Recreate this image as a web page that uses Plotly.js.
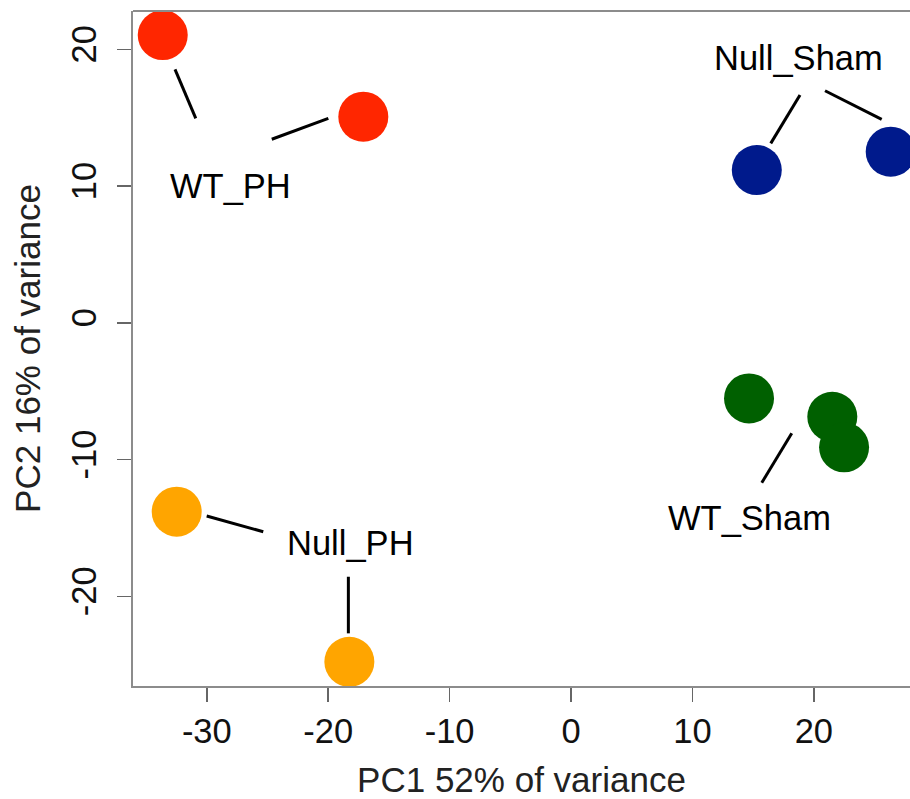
<!DOCTYPE html>
<html>
<head>
<meta charset="utf-8">
<script src="https://cdn.plot.ly/plotly-3.0.1.min.js"></script>
<style>html,body{margin:0;padding:0;background:#fff;}#chart{width:910px;height:799px;}</style>
</head>
<body>
<div id="chart"></div>
<script>
// ---- data ----
const sampleGroups = ["WT_PH","WT_PH","Null_Sham","Null_Sham","WT_Sham","WT_Sham","WT_Sham","Null_PH","Null_PH"];
const pc1 = [-33.63, -17.11, 15.30, 26.33, 14.66, 21.52, 22.49, -32.48, -18.26];
const pc2 = [21.05, 15.08, 11.18, 12.52, -5.52, -6.86, -9.10, -13.80, -24.78];
const groupNames = ["WT_PH", "Null_Sham", "WT_Sham", "Null_PH"];
const xTickVals = [-30, -20, -10, 0, 10, 20];
const yTickVals = [-20, -10, 0, 10, 20];
const xTitle = "PC1 52% of variance";
const yTitle = "PC2 16% of variance";

// ---- styling ----
const groupColors = {"WT_PH": "#FF2600", "Null_Sham": "#001A8C", "WT_Sham": "#006000", "Null_PH": "#FFA500"};
const FONT = "Liberation Sans, Arial, Helvetica, sans-serif";

// label placement (layout decoration, data coordinates)
const labelPos = {
  "WT_PH":     [-28.09, 10.03],
  "Null_Sham": [18.70, 19.35],
  "WT_Sham":   [14.74, -14.27],
  "Null_PH":   [-18.14, -16.12]
};
const leaderLines = [
  [-32.62, 18.54, -30.91, 14.96],
  [-24.65, 13.43, -19.99, 14.96],
  [16.45, 13.13, 18.86, 16.67],
  [20.92, 16.98, 25.59, 14.89],
  [18.18, -8.07, 15.71, -11.69],
  [-30.01, -14.12, -25.35, -15.27],
  [-18.34, -18.56, -18.34, -22.70]
];

const traces = groupNames.map(g => {
  const xs = [], ys = [];
  sampleGroups.forEach((s, i) => { if (s === g) { xs.push(pc1[i]); ys.push(pc2[i]); } });
  return {
    type: "scatter", mode: "markers", name: g, x: xs, y: ys,
    marker: {size: 50, color: groupColors[g], line: {width: 0}},
    cliponaxis: false, hoverinfo: "x+y+name"
  };
});

const shapes = leaderLines.map(l => ({
  type: "line", xref: "x", yref: "y", x0: l[0], y0: l[1], x1: l[2], y1: l[3],
  line: {color: "#000", width: 3}
}));
shapes.push({type: "line", xref: "paper", yref: "paper", x0: 0, x1: 1, y0: 1, y1: 1,
  line: {color: "#8c8c8c", width: 2}});

const annotations = groupNames.map(g => ({
  x: labelPos[g][0], y: labelPos[g][1], xref: "x", yref: "y",
  text: g, showarrow: false, xanchor: "center", yanchor: "middle",
  font: {family: FONT, size: 34.5, color: "#000"}
}));

const layout = {
  width: 910, height: 799,
  margin: {l: 133, r: 0, t: 11, b: 113},
  paper_bgcolor: "#fff", plot_bgcolor: "#fff",
  showlegend: false,
  font: {family: FONT, color: "#111"},
  xaxis: {
    range: [-36.08, 27.92], tickvals: xTickVals, ticktext: xTickVals.map(String),
    showgrid: false, zeroline: false, showline: true, linecolor: "#8c8c8c", linewidth: 2,
    ticks: "outside", ticklen: 14, tickwidth: 1.5, tickcolor: "#666",
    tickfont: {family: FONT, size: 34.5, color: "#111"},
    title: {text: xTitle, font: {family: FONT, size: 35, color: "#222"}, standoff: 22}
  },
  yaxis: {
    range: [-26.55, 22.81], tickvals: yTickVals, ticktext: yTickVals.map(String),
    showgrid: false, zeroline: false, showline: true, linecolor: "#8c8c8c", linewidth: 2,
    ticks: "outside", ticklen: 14, tickwidth: 1.5, tickcolor: "#666", tickangle: -90,
    ticklabelstandoff: 7,
    tickfont: {family: FONT, size: 34.5, color: "#111"},
    title: {text: yTitle, font: {family: FONT, size: 35, color: "#222"}, standoff: 14}
  },
  shapes: shapes,
  annotations: annotations
};

Plotly.newPlot("chart", traces, layout, {displayModeBar: false, staticPlot: true});
</script>
</body>
</html>
